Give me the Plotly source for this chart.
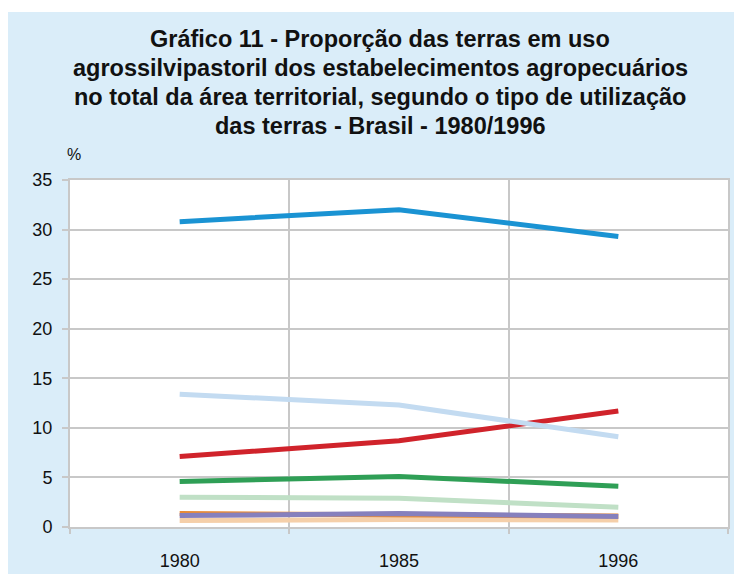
import plotly.graph_objects as go

years = ["1980", "1985", "1996"]
series_names = ["Série A", "Série B", "Série C", "Série D", "Série E", "Série F", "Série G", "Série H"]
serie_a = [30.8, 32.0, 29.3]   # azul
serie_b = [13.4, 12.3, 9.1]    # azul claro
serie_c = [7.1, 8.7, 11.7]     # vermelho
serie_d = [4.6, 5.1, 4.1]      # verde
serie_e = [3.0, 2.9, 2.0]      # verde claro
serie_f = [1.35, 1.25, 1.1]    # laranja
serie_g = [0.65, 0.75, 0.7]    # pêssego
serie_h = [1.15, 1.35, 1.05]   # roxo
y_ticks = [0, 5, 10, 15, 20, 25, 30, 35]
title_lines = [
    "Gráfico 11 - Proporção das terras em uso",
    "agrossilvipastoril dos estabelecimentos agropecuários",
    "no total da área territorial, segundo o tipo de utilização",
    "das terras - Brasil - 1980/1996",
]

colors = ["#1a93d3", "#c3dbf1", "#d0232b", "#2f9f56", "#c0e0c6", "#e98b36", "#f5cfa9", "#8680bd"]

x_pos = list(range(len(years)))
data_order = [
    (series_names[4], serie_e, colors[4]),
    (series_names[6], serie_g, colors[6]),
    (series_names[5], serie_f, colors[5]),
    (series_names[7], serie_h, colors[7]),
    (series_names[3], serie_d, colors[3]),
    (series_names[2], serie_c, colors[2]),
    (series_names[1], serie_b, colors[1]),
    (series_names[0], serie_a, colors[0]),
]

fig = go.Figure()
for name, vals, col in data_order:
    fig.add_trace(go.Scatter(x=x_pos, y=vals, mode="lines", name=name,
                             line=dict(color=col, width=5)))

grid_col = "#c8c8c8"
font_fam = "Liberation Sans, Arial, sans-serif"

W, H = 734, 566
ML, MR, MT, MB = 62, 14, 172, 47
PW, PH = W - ML - MR, H - MT - MB


def px_x(x):
    return (x - ML) / PW


def px_y(y):
    return (H - MB - y) / PH


annotations = [dict(text="%", xref="paper", yref="paper", x=-0.008, y=1.042,
                    xanchor="left", yanchor="bottom", showarrow=False,
                    font=dict(size=16, color="#111111"))]
for i, line in enumerate(title_lines):
    annotations.append(dict(
        text="<b>" + line + "</b>", xref="paper", yref="paper",
        x=px_x(372), y=px_y(31.5 + 28.7 * i), xanchor="center", yanchor="middle",
        showarrow=False, font=dict(family=font_fam, size=23.5, color="#111111"),
    ))

fig.update_layout(
    width=W, height=H,
    paper_bgcolor="#daedf9",
    plot_bgcolor="#ffffff",
    showlegend=False,
    margin=dict(l=ML, r=MR, t=MT, b=MB),
    font=dict(family=font_fam, size=18, color="#111111"),
    xaxis=dict(
        range=[-0.5, 2.5], automargin=False,
        tickmode="array", tickvals=x_pos, ticktext=years,
        ticks="", showgrid=False, zeroline=False,
        showline=True, linecolor=grid_col, linewidth=2, mirror=True,
        ticklabelstandoff=16,
        tickfont=dict(size=18),
        minor=dict(tickmode="array", tickvals=[-0.5, 0.5, 1.5, 2.5],
                   ticks="outside", ticklen=5, tickcolor=grid_col, tickwidth=2,
                   showgrid=True, gridcolor=grid_col, gridwidth=2),
    ),
    yaxis=dict(
        range=[0, 35], tickmode="array", tickvals=y_ticks, automargin=False,
        ticks="outside", ticklen=6, tickcolor=grid_col, tickwidth=2,
        showgrid=True, gridcolor=grid_col, gridwidth=2, zeroline=False,
        showline=True, linecolor=grid_col, linewidth=2, mirror=True,
        ticklabelstandoff=6,
        tickfont=dict(size=18),
    ),
    annotations=annotations,
    shapes=[
        dict(type="rect", xref="paper", yref="paper", x0=-0.2, x1=1.1,
             y0=px_y(4), y1=px_y(-10), fillcolor="#ffffff", line=dict(width=0), layer="above"),
    ],
)

fig.write_html("out.html")
